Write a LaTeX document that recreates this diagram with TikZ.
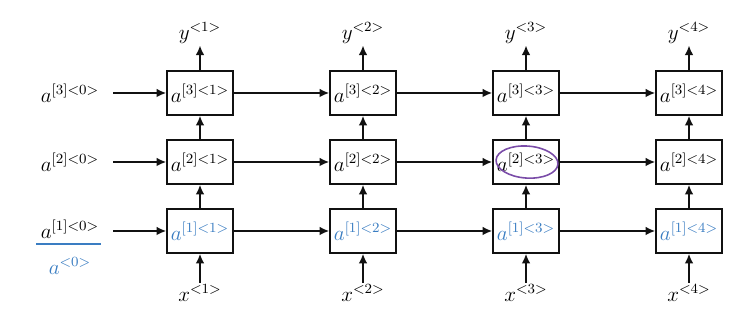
\documentclass[tikz,border=0pt]{standalone}
\usepackage{amsmath, amssymb}
\usepackage{tikz}
\usetikzlibrary{arrows.meta, positioning, calc}
\definecolor{Ink}{HTML}{111111}
\definecolor{Pen}{HTML}{3A7DC2}
\definecolor{Violet}{HTML}{7A4CA8}

\begin{document}
\begin{tikzpicture}[
          font=\large,
          cell/.style={draw=Ink, line width=0.9pt, minimum width=1.32cm, minimum height=0.88cm, inner sep=0pt, align=center},
          lbl/.style={inner sep=1pt},
          pen/.style={text=Pen},
          arr/.style={-{Latex[length=1.9mm, width=1.7mm]}, line width=0.9pt, color=Ink}
        ]
          \useasboundingbox (0,0) rectangle (14.7,6.48);

          % layer 3
          \node[lbl] (s3) at (1.40,4.62) {$a^{[3]<0>}$};
          \node[cell] (w1) at (4.00,4.62) {$a^{[3]<1>}$};
          \node[cell] (w2) at (7.26,4.62) {$a^{[3]<2>}$};
          \node[cell] (w3) at (10.52,4.62) {$a^{[3]<3>}$};
          \node[cell] (w4) at (13.78,4.62) {$a^{[3]<4>}$};

          % layer 2
          \node[lbl] (s2) at (1.40,3.24) {$a^{[2]<0>}$};
          \node[cell] (v1) at (4.00,3.24) {$a^{[2]<1>}$};
          \node[cell] (v2) at (7.26,3.24) {$a^{[2]<2>}$};
          \node[cell] (v3) at (10.52,3.24) {$a^{[2]<3>}$};
          \node[cell] (v4) at (13.78,3.24) {$a^{[2]<4>}$};

          % layer 1 (handwritten labels in blue)
          \node[lbl] (s1) at (1.40,1.90) {$a^{[1]<0>}$};
          \node[cell, pen] (u1) at (4.00,1.86) {$a^{[1]<1>}$};
          \node[cell, pen] (u2) at (7.26,1.86) {$a^{[1]<2>}$};
          \node[cell, pen] (u3) at (10.52,1.86) {$a^{[1]<3>}$};
          \node[cell, pen] (u4) at (13.78,1.86) {$a^{[1]<4>}$};

          % inputs and outputs
          \node[lbl] (x1) at (4.00,0.62) {$x^{<1>}$};
          \node[lbl] (x2) at (7.26,0.62) {$x^{<2>}$};
          \node[lbl] (x3) at (10.52,0.62) {$x^{<3>}$};
          \node[lbl] (x4) at (13.78,0.62) {$x^{<4>}$};
          \node[lbl] (y1) at (4.00,5.82) {$y^{<1>}$};
          \node[lbl] (y2) at (7.26,5.82) {$y^{<2>}$};
          \node[lbl] (y3) at (10.52,5.82) {$y^{<3>}$};
          \node[lbl] (y4) at (13.78,5.82) {$y^{<4>}$};

          % initial states
          \draw[arr] ($(s3.east)+(0.24,0)$) -- (w1);
          \draw[arr] ($(s2.east)+(0.24,0)$) -- (v1);
          \draw[arr] ($(s1.east)+(0.24,-0.04)$) -- (u1);

          % time direction
          \draw[arr] (w1) -- (w2);
          \draw[arr] (w2) -- (w3);
          \draw[arr] (w3) -- (w4);
          \draw[arr] (v1) -- (v2);
          \draw[arr] (v2) -- (v3);
          \draw[arr] (v3) -- (v4);
          \draw[arr] (u1) -- (u2);
          \draw[arr] (u2) -- (u3);
          \draw[arr] (u3) -- (u4);

          % depth direction
          \draw[arr] (x1) -- (u1);
          \draw[arr] (x2) -- (u2);
          \draw[arr] (x3) -- (u3);
          \draw[arr] (x4) -- (u4);
          \draw[arr] (u1) -- (v1);
          \draw[arr] (u2) -- (v2);
          \draw[arr] (u3) -- (v3);
          \draw[arr] (u4) -- (v4);
          \draw[arr] (v1) -- (w1);
          \draw[arr] (v2) -- (w2);
          \draw[arr] (v3) -- (w3);
          \draw[arr] (v4) -- (w4);
          \draw[arr] (w1) -- (y1);
          \draw[arr] (w2) -- (y2);
          \draw[arr] (w3) -- (y3);
          \draw[arr] (w4) -- (y4);

          % pen annotations
          \node[lbl, pen] (s0) at (1.40,1.16) {$a^{<0>}$};
          \draw[Pen, line width=1pt] ($(s1.south west)+(-0.05,-0.08)$) -- ($(s1.south east)+(0.0,-0.08)$);
          \draw[Violet, line width=0.9pt, rotate around={-4:(v3.center)}] ($(v3.center)+(0.02,0.0)$) ellipse [x radius=0.62cm, y radius=0.32cm];
        \end{tikzpicture}
\end{document}
